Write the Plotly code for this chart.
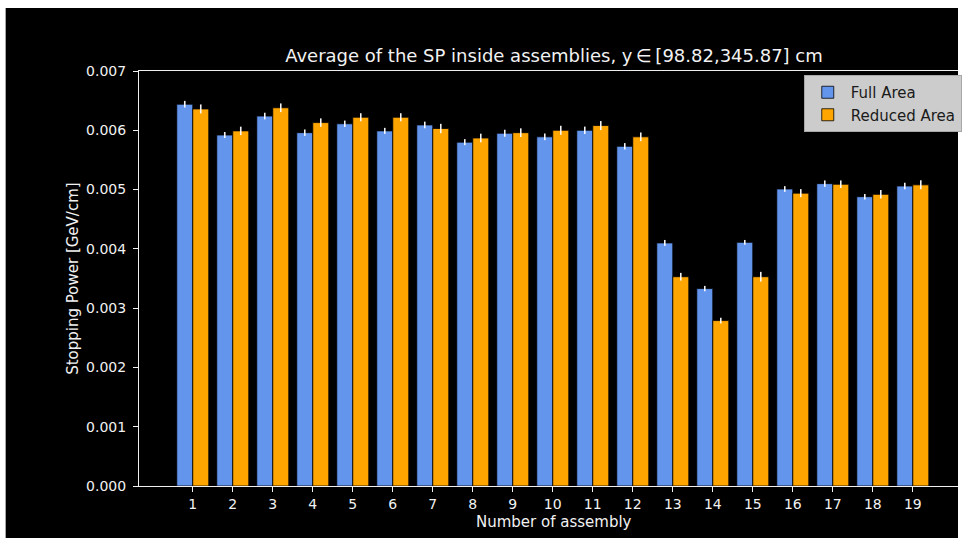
import plotly.graph_objects as go

# ---- data ----
assemblies = list(range(1, 20))
full_area = [0.00644, 0.00592, 0.00624, 0.00596, 0.00611, 0.00599, 0.00609, 0.00580, 0.00595, 0.00589,
             0.00600, 0.00573, 0.00410, 0.00333, 0.00411, 0.00501, 0.00510, 0.00488, 0.00506]
full_area_err = [0.000056, 0.000051, 0.000056, 0.000054, 0.000054, 0.000051, 0.000056, 0.000051, 0.000059, 0.000056,
                 0.000062, 0.000054, 0.000050, 0.000045, 0.000040, 0.000048, 0.000054, 0.000046, 0.000056]
reduced_area = [0.00636, 0.00599, 0.00638, 0.00613, 0.00622, 0.00622, 0.00603, 0.00587, 0.00596, 0.00600,
                0.00608, 0.00589, 0.00353, 0.00279, 0.00353, 0.00494, 0.00509, 0.00492, 0.00508]
reduced_area_err = [0.000076, 0.000071, 0.000073, 0.000071, 0.000068, 0.000068, 0.000079, 0.000073, 0.000073, 0.000076,
                    0.000076, 0.000073, 0.000065, 0.000048, 0.000082, 0.000068, 0.000064, 0.000071, 0.000076]
y_ticks = [0.000, 0.001, 0.002, 0.003, 0.004, 0.005, 0.006, 0.007]

title_text = "Average of the SP inside assemblies, y\u2009\u2208\u2009[98.82,345.87] cm"
x_label = "Number of assembly"
y_label = "Stopping Power [GeV/cm]"

FONT = "DejaVu Sans"
W, H = 962, 539
ML, MR, MT, MB = 139, 0, 71, 53
PW, PH = W - ML - MR, H - MT - MB


def px_x(px):
    return (px - ML) / PW


def px_y(py):
    return (H - MB - py) / PH


fig = go.Figure()
fig.add_trace(go.Bar(
    x=assemblies, y=full_area, name="Full Area",
    marker=dict(color="#6495ED", line=dict(color="black", width=0.8)),
    error_y=dict(type="data", array=full_area_err, visible=True, color="rgba(255,255,255,0.95)",
                 thickness=1.6, width=0),
))
fig.add_trace(go.Bar(
    x=assemblies, y=reduced_area, name="Reduced Area",
    marker=dict(color="#FFA500", line=dict(color="black", width=0.8)),
    error_y=dict(type="data", array=reduced_area_err, visible=True, color="rgba(255,255,255,0.95)",
                 thickness=1.6, width=0),
))

fig.update_layout(
    width=W, height=H,
    margin=dict(l=ML, r=MR, t=MT, b=MB, pad=0),
    paper_bgcolor="white",
    plot_bgcolor="black",
    barmode="group", bargap=0.2, bargroupgap=0,
    font=dict(family=FONT, size=14, color="white"),
    title=dict(text=title_text, font=dict(family=FONT, size=18, color="#f2f2f2"),
               xref="paper", x=px_x(556), xanchor="center",
               yref="container", y=1 - 56 / H, yanchor="middle"),
    showlegend=True,
    legend=dict(x=px_x(807), y=px_y(75), xanchor="left", yanchor="top",
                bgcolor="#cccccc", bordercolor="#a8a8a8", borderwidth=1,
                font=dict(family=FONT, size=15, color="#1a1a1a"),
                tracegroupgap=2, itemwidth=36),
    xaxis=dict(range=[-0.344, 20.13], tickmode="array", tickvals=assemblies,
               ticktext=[str(a) for a in assemblies],
               showgrid=False, zeroline=False, showline=True, linecolor="#f0f0f0", linewidth=1,
               mirror=True, ticks="outside", ticklen=5, tickwidth=1, tickcolor="#f0f0f0",
               tickfont=dict(family=FONT, size=14, color="#f2f2f2")),
    yaxis=dict(range=[0, 0.007], tickmode="array", tickvals=y_ticks,
               ticktext=["%.3f" % v for v in y_ticks],
               showgrid=False, zeroline=False, showline=True, linecolor="#f0f0f0", linewidth=1,
               ticks="outside", ticklen=5, tickwidth=1, tickcolor="#f0f0f0",
               ticklabelstandoff=4,
               tickfont=dict(family=FONT, size=14, color="#f2f2f2")),
    shapes=[dict(type="rect", xref="paper", yref="paper",
                 x0=px_x(5), x1=px_x(962), y0=px_y(538), y1=px_y(8),
                 fillcolor="black", line=dict(width=0), layer="below")],
    annotations=[
        dict(text=x_label, xref="paper", yref="paper", x=px_x(556), y=px_y(522),
             xanchor="center", yanchor="middle", showarrow=False,
             font=dict(family=FONT, size=15, color="#f2f2f2")),
        dict(text=y_label, xref="paper", yref="paper", x=px_x(72), y=0.5, textangle=-90,
             xanchor="center", yanchor="middle", showarrow=False,
             font=dict(family=FONT, size=15, color="#f2f2f2")),
    ],
)

fig.write_html("out.html", config={"displayModeBar": False},
               post_script="document.body.style.margin='0';document.body.style.overflow='hidden';")
